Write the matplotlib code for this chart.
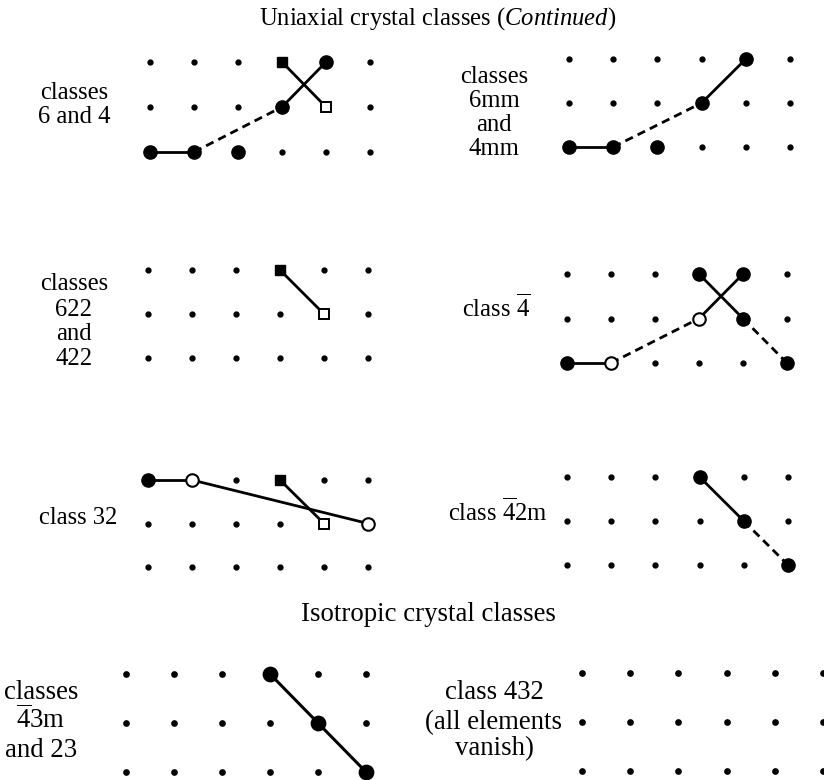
import matplotlib
matplotlib.use('Agg')
from matplotlib import pyplot as plt

plt.rcParams['font.family'] = 'Liberation Serif'
plt.rcParams['mathtext.fontset'] = 'custom'
plt.rcParams['mathtext.rm'] = 'Liberation Serif'
plt.rcParams['mathtext.it'] = 'Liberation Serif:italic'

W, H = 824, 780
N_COLS, N_ROWS = 6, 3

# element marks on the 6x3 grid: (col, row, kind)
# kinds: 'o' filled circle, 'oo' open circle, 's' filled square, 'ss' open square
cls_6_4_marks = [(0, 2, 'o'), (1, 2, 'o'), (2, 2, 'o'), (3, 1, 'o'), (4, 0, 'o'), (3, 0, 's'), (4, 1, 'ss')]
cls_6_4_links = [((0, 2), (1, 2), '-'), ((1, 2), (3, 1), '--'), ((3, 1), (4, 0), '-'), ((3, 0), (4, 1), '-')]

cls_6mm_marks = [(0, 2, 'o'), (1, 2, 'o'), (2, 2, 'o'), (3, 1, 'o'), (4, 0, 'o')]
cls_6mm_links = [((0, 2), (1, 2), '-'), ((1, 2), (3, 1), '--'), ((3, 1), (4, 0), '-')]

cls_622_marks = [(3, 0, 's'), (4, 1, 'ss')]
cls_622_links = [((3, 0), (4, 1), '-')]

cls_4bar_marks = [(0, 2, 'o'), (1, 2, 'oo'), (3, 1, 'oo'), (3, 0, 'o'), (4, 0, 'o'), (4, 1, 'o'), (5, 2, 'o')]
cls_4bar_links = [((0, 2), (1, 2), '-'), ((1, 2), (3, 1), '--'), ((3, 1), (4, 0), '-'),
                  ((3, 0), (4, 1), '-'), ((4, 1), (5, 2), '--')]

cls_32_marks = [(0, 0, 'o'), (1, 0, 'oo'), (3, 0, 's'), (4, 1, 'ss'), (5, 1, 'oo')]
cls_32_links = [((0, 0), (1, 0), '-'), ((1, 0), (5, 1), '-'), ((3, 0), (4, 1), '-')]

cls_42m_marks = [(3, 0, 'o'), (4, 1, 'o'), (5, 2, 'o')]
cls_42m_links = [((3, 0), (4, 1), '-'), ((4, 1), (5, 2), '--')]

cls_43m_marks = [(3, 0, 'o'), (4, 1, 'o'), (5, 2, 'o')]
cls_43m_links = [((3, 0), (4, 1), '-'), ((4, 1), (5, 2), '-')]

cls_432_marks = []
cls_432_links = []

FS = 17.7       # uniaxial section
FS_ISO = 19.3   # isotropic section is printed a little larger

# panel layout: marks, links, (x of col 0, y of row 0, col step, row step) in px, scale, labels
panels = [
    (cls_6_4_marks, cls_6_4_links, (150, 62, 44, 45), 1.0,
     [('classes', 74, 99, 'center'), ('6 and 4', 74, 123, 'center')]),
    (cls_6mm_marks, cls_6mm_links, (569, 59, 44.2, 44), 1.0,
     [('classes', 494, 83, 'center'), ('6mm', 494, 107, 'center'),
      ('and', 494, 131, 'center'), ('4mm', 494, 155, 'center')]),
    (cls_622_marks, cls_622_links, (148, 270, 44, 44), 1.0,
     [('classes', 74, 290, 'center'), ('622', 74, 316, 'center'),
      ('and', 74, 340, 'center'), ('422', 74, 365, 'center')]),
    (cls_4bar_marks, cls_4bar_links, (567, 274, 44, 44.5), 1.0,
     [(r'class $\overline{4}$', 462, 317, 'left')]),
    (cls_32_marks, cls_32_links, (148, 480, 44, 43.5), 1.0,
     [('class 32', 39, 524, 'left')]),
    (cls_42m_marks, cls_42m_links, (567, 477, 44.2, 44), 1.0,
     [(r'class $\overline{4}$2m', 448, 521, 'left')]),
    (cls_43m_marks, cls_43m_links, (126, 674, 48, 49), FS_ISO / FS,
     [('classes', 41, 699, 'center'), (r'$\overline{4}$3m', 41, 728, 'center'),
      ('and 23', 41, 757, 'center')]),
    (cls_432_marks, cls_432_links, (582, 673, 48.2, 49), FS_ISO / FS,
     [('class 432', 494, 699, 'center'), ('(all elements', 494, 729, 'center'),
      ('vanish)', 494, 755, 'center')]),
]

mark_style = {
    'o': dict(marker='o', ms=9.5, mfc='black', mec='black', mew=1.0),
    'oo': dict(marker='o', ms=9.0, mfc='white', mec='black', mew=1.5),
    's': dict(marker='s', ms=7.5, mfc='black', mec='black', mew=1.0),
    'ss': dict(marker='s', ms=6.8, mfc='white', mec='black', mew=1.4),
}

fig = plt.figure(figsize=(W / 100, H / 100), dpi=100)
fig.patch.set_facecolor('white')


def ftext(s, x, y, ha='center', size=FS):
    fig.text(x / W, 1 - y / H, s, ha=ha, va='baseline', fontsize=size)


for marks, links, (x0, y0, dx, dy), k, labels in panels:
    left = x0 - 0.5 * dx
    top = y0 - 0.5 * dy
    ax = fig.add_axes([left / W, 1 - (top + N_ROWS * dy) / H, N_COLS * dx / W, N_ROWS * dy / H])
    ax.set_xlim(-0.5, N_COLS - 0.5)
    ax.set_ylim(N_ROWS - 0.5, -0.5)
    ax.axis('off')

    # background grid of small dots
    for r in range(N_ROWS):
        ax.plot(range(N_COLS), [r] * N_COLS, ls='none', marker='o', ms=3.5 * k,
                color='black', clip_on=False, zorder=1)

    for (c1, r1), (c2, r2), ls in links:
        line, = ax.plot([c1, c2], [r1, r2], color='black', lw=2.0 * k, clip_on=False, zorder=2,
                        solid_capstyle='butt')
        if ls == '--':
            line.set_dashes((3.0, 1.9))

    for c, r, kind in marks:
        st = dict(mark_style[kind])
        st['ms'] = st['ms'] * k
        ax.plot([c], [r], ls='none', clip_on=False, zorder=3, **st)

    for s, x, y, ha in labels:
        ftext(s, x, y, ha=ha, size=FS * k)

ftext(r'Uniaxial crystal classes ($\mathit{Continued}$)', 438, 25)
ftext('Isotropic crystal classes', 428, 621, size=FS_ISO)

fig.savefig('out.png', dpi=100, facecolor='white')
